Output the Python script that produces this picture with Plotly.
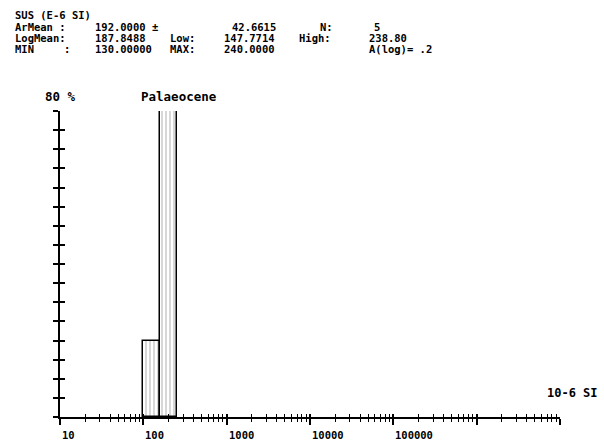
import numpy as np
import plotly.graph_objects as go

# ---------------- data ----------------
log_step = 0.2                      # A(log) = .2
bin_start_log = [2.0, 2.2]          # log10 of bin lower edges
percent = [20, 80]                  # % of samples in each bin
group_name = "Palaeocene"

decade_values = [10, 100, 1000, 10000, 100000, 1000000, 10000000]
decade_labels = ["10", "100", "1000", "10000", "100000", "", ""]
y_ticks = list(range(0, 81, 5))

header = [
    ("SUS (E-6 SI)", 13, 15),
    ("ArMean :", 13, 27), ("192.0000 \u00b1", 93, 27), ("42.6615", 230, 27),
    ("N:", 318, 27), ("5", 372, 27),
    ("LogMean:", 13, 38), ("187.8488", 93, 38), ("Low:", 168, 38),
    ("147.7714", 222, 38), ("High:", 297, 38), ("238.80", 367, 38),
    ("MIN", 13, 49), (":", 62, 49), ("130.00000", 93, 49), ("MAX:", 168, 49),
    ("240.0000", 222, 49), ("A(log)= .2", 367, 49),
]

# ---------------- layout geometry ----------------
W, H = 604, 442
L, R, T, B = 60, 44, 111, 25
PW, PH = W - L - R, H - T - B


def px(x):
    return (x - L) / PW


def py(y):
    return (H - B - y) / PH


FONT = "DejaVu Sans Mono"

x_centers = [s + log_step / 2 for s in bin_start_log]
major_log = [float(np.log10(v)) for v in decade_values]
minor_log = [float(np.log10(k * d)) for d in decade_values[:-1] for k in range(2, 10)]

fig = go.Figure()
fig.add_trace(go.Bar(
    x=x_centers, y=percent, width=[log_step] * len(percent),
    marker=dict(color="white", line=dict(color="black", width=1.5),
                pattern=dict(shape="|", fgcolor="#7a7a7a", bgcolor="white",
                             size=4, solidity=0.3)),
    cliponaxis=False,
    showlegend=False, hoverinfo="skip",
))
# invisible trace for the overlay axes (tick crossings)
fig.add_trace(go.Scatter(x=[1, 7], y=[0, 80], xaxis="x2", yaxis="y2",
                         mode="markers", marker=dict(opacity=0),
                         showlegend=False, hoverinfo="skip"))

common_x = dict(range=[1, 7], showgrid=False, zeroline=False,
                tickmode="array", tickvals=major_log,
                ticktext=[""] * len(major_log), tickcolor="black")
common_y = dict(range=[0, 80], showgrid=False, zeroline=False,
                tickmode="array", tickvals=y_ticks,
                ticktext=[""] * len(y_ticks), tickcolor="black")

fig.update_layout(
    width=W, height=H,
    margin=dict(l=L, r=R, t=T, b=B, pad=0),
    paper_bgcolor="white", plot_bgcolor="white",
    bargap=0,
    xaxis=dict(**common_x, showline=True, linecolor="black", linewidth=2,
               ticks="outside", ticklen=6, tickwidth=1.5,
               minor=dict(tickmode="array", tickvals=minor_log, ticks="outside",
                          ticklen=3, tickwidth=1, tickcolor="black")),
    xaxis2=dict(**common_x, overlaying="x", anchor="y2", side="bottom",
                showline=False, ticks="inside", ticklen=3, tickwidth=1.5,
                minor=dict(tickmode="array", tickvals=minor_log, ticks="inside",
                           ticklen=3, tickwidth=1, tickcolor="black")),
    yaxis=dict(**common_y, showline=True, linecolor="black", linewidth=2,
               ticks="outside", ticklen=5, tickwidth=1.5),
    yaxis2=dict(**common_y, overlaying="y", anchor="x2", side="left",
                showline=False, ticks="inside", ticklen=5, tickwidth=1.5),
)

ann = []
for text, x, y in header:
    ann.append(dict(text=text, x=px(x), y=py(y), xref="paper", yref="paper",
                    xanchor="left", yanchor="middle", showarrow=False,
                    font=dict(family=FONT, size=10.5, color="black", weight="bold")))
for v, lab in zip(major_log, decade_labels):
    if lab:
        ann.append(dict(text=lab, x=v, y=py(435), xref="x", yref="paper",
                        xanchor="left", yanchor="middle", showarrow=False,
                        font=dict(family=FONT, size=10.5, color="black", weight="bold")))
ann.append(dict(text="80 %", x=px(43), y=py(97), xref="paper", yref="paper",
                xanchor="left", yanchor="middle", showarrow=False,
                font=dict(family=FONT, size=12.5, color="black", weight="bold")))
ann.append(dict(text=group_name, x=px(139), y=py(97), xref="paper", yref="paper",
                xanchor="left", yanchor="middle", showarrow=False,
                font=dict(family=FONT, size=12.5, color="black", weight="bold")))
ann.append(dict(text="10-6 SI", x=px(545), y=py(393), xref="paper", yref="paper",
                xanchor="left", yanchor="middle", showarrow=False,
                font=dict(family=FONT, size=12, color="black", weight="bold")))
fig.update_layout(annotations=ann)

fig.write_html("out.html")
